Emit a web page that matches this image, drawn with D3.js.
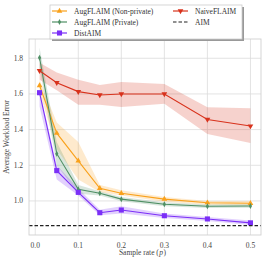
<!DOCTYPE html>
<html><head><meta charset="utf-8">
<script src="https://cdn.jsdelivr.net/npm/d3@7"></script>
<style>body{margin:0;background:#fff}svg{display:block}text{font-family:"Liberation Serif","DejaVu Serif",serif}</style>
</head><body><svg id="c" width="266" height="263"></svg>
<script>
const sampleRates = [0.01, 0.05, 0.1, 0.15, 0.2, 0.3, 0.4, 0.5];
const xTicks = [0.0, 0.1, 0.2, 0.3, 0.4, 0.5];
const yTicks = [1.0, 1.2, 1.4, 1.6, 1.8];
const aimValue = 0.862;

const augNonPrivMean = [1.647, 1.38, 1.225, 1.071, 1.043, 1.01, 0.99, 0.987];
const augNonPrivLo   = [1.61, 1.29, 1.12, 1.05, 1.03, 0.995, 0.978, 0.975];
const augNonPrivHi   = [1.68, 1.44, 1.33, 1.09, 1.06, 1.022, 1.0, 1.0];

const augPrivMean = [1.803, 1.265, 1.065, 1.043, 1.01, 0.981, 0.97, 0.972];
const augPrivLo   = [1.75, 1.2, 1.04, 1.03, 0.998, 0.97, 0.96, 0.962];
const augPrivHi   = [1.86, 1.33, 1.09, 1.055, 1.022, 0.992, 0.98, 0.982];

const distMean = [1.607, 1.17, 1.048, 0.934, 0.949, 0.917, 0.899, 0.877];
const distLo   = [1.53, 1.12, 1.03, 0.92, 0.93, 0.905, 0.888, 0.865];
const distHi   = [1.62, 1.2, 1.07, 0.95, 0.97, 0.93, 0.91, 0.89];

const naiveMean = [1.73, 1.663, 1.613, 1.594, 1.6, 1.6, 1.457, 1.42];
const naiveLo   = [1.68, 1.62, 1.54, 1.54, 1.527, 1.545, 1.376, 1.325];
const naiveHi   = [1.775, 1.72, 1.68, 1.65, 1.667, 1.656, 1.525, 1.52];

const seriesNames = ["AugFLAIM (Non-private)", "AugFLAIM (Private)", "DistAIM", "NaiveFLAIM", "AIM"];

const svg = d3.select("#c");
const L = 29, R = 261, T = 39, B = 235;
const x = d3.scaleLinear().domain([-0.0145, 0.5245]).range([L, R]);
const y = d3.scaleLinear().domain([0.809, 1.908]).range([B, T]);

// grid
const g = svg.append("g");
g.selectAll(".gx").data(xTicks).join("line").attr("x1", d=>x(d)).attr("x2", d=>x(d)).attr("y1", T).attr("y2", B).attr("stroke", "#dcdcdc").attr("stroke-width", 0.8);
g.selectAll(".gy").data(yTicks).join("line").attr("x1", L).attr("x2", R).attr("y1", d=>y(d)).attr("y2", d=>y(d)).attr("stroke", "#dcdcdc").attr("stroke-width", 0.8);

const series = [
  {name: seriesNames[0], mean: augNonPrivMean, lo: augNonPrivLo, hi: augNonPrivHi, color: "#f9a11b", sym: d3.symbolTriangle, size: 14},
  {name: seriesNames[1], mean: augPrivMean, lo: augPrivLo, hi: augPrivHi, color: "#4f8f64", sym: "diamond", size: 10},
  {name: seriesNames[2], mean: distMean, lo: distLo, hi: distHi, color: "#7b2ff7", sym: d3.symbolSquare, size: 26},
  {name: seriesNames[3], mean: naiveMean, lo: naiveLo, hi: naiveHi, color: "#d8321c", sym: "tri-down", size: 14}
];

const area = (s) => d3.area().x((d,i)=>x(sampleRates[i])).y0((d,i)=>y(s.lo[i])).y1((d,i)=>y(s.hi[i]));
const line = d3.line().x((d,i)=>x(sampleRates[i])).y(d=>y(d));

function marker(sel, s) {
  if (s.sym === "diamond") {
    sel.append("path").attr("d", "M0,-3L1.6,0L0,3L-1.6,0Z").attr("fill", s.color);
  } else if (s.sym === "tri-down") {
    sel.append("path").attr("d", d3.symbol(d3.symbolTriangle, s.size)()).attr("transform","rotate(180)").attr("fill", s.color);
  } else {
    sel.append("path").attr("d", d3.symbol(s.sym, s.size)()).attr("fill", s.color);
  }
}

const plot = svg.append("g");
series.forEach(s => {
  plot.append("path").datum(s.mean).attr("d", area(s)).attr("fill", s.color).attr("fill-opacity", 0.22);
});
series.forEach(s => {
  plot.append("path").datum(s.mean).attr("d", line).attr("fill", "none").attr("stroke", s.color).attr("stroke-width", 1.1);
  s.mean.forEach((v,i) => {
    const m = plot.append("g").attr("transform", `translate(${x(sampleRates[i])},${y(v)})`);
    marker(m, s);
  });
});
// AIM
plot.append("line").attr("x1", L).attr("x2", R).attr("y1", y(aimValue)).attr("y2", y(aimValue)).attr("stroke", "#222").attr("stroke-width", 1.2).attr("stroke-dasharray", "3.5,2");

// frame
svg.append("rect").attr("x", L).attr("y", T).attr("width", R-L).attr("height", B-T).attr("fill","none").attr("stroke","#d0d0d0").attr("stroke-width",0.9);

// tick labels
svg.selectAll(".xt").data(xTicks).join("text").attr("x", d=>x(d)).attr("y", B+12.5).attr("text-anchor","middle").attr("font-size", 7.5).attr("fill","#444").text(d=>d3.format(".1f")(d));
svg.selectAll(".yt").data(yTicks).join("text").attr("x", L-6).attr("y", d=>y(d)+2.5).attr("text-anchor","end").attr("font-size", 7.5).attr("fill","#444").text(d=>d3.format(".1f")(d));

// x label: "Sample rate (p)" with italic p, as adjacent text pieces
const xl = svg.append("g");
const parts = [["Sample rate (", "normal"], ["p", "italic"], [")", "normal"]];
const nodes = parts.map(([t, st]) => xl.append("text").attr("y", 255).attr("font-size", 7.5).attr("fill","#444").attr("font-style", st).text(t));
const widths = nodes.map(n => n.node().getComputedTextLength());
let cx = 142 - d3.sum(widths)/2;
nodes.forEach((n,i) => { n.attr("x", cx); cx += widths[i] + (i===1 ? 0.5 : 0.3); });

svg.append("text").attr("transform", `translate(9,${(T+B)/2}) rotate(-90)`).attr("text-anchor","middle").attr("font-size", 7.5).attr("fill","#444").text("Average Workload Error");

// legend
const lg = svg.append("g");
lg.append("rect").attr("x", 52).attr("y", 7).attr("width", 192).attr("height", 34).attr("fill", "#999");
lg.append("rect").attr("x", 50).attr("y", 5).attr("width", 192).attr("height", 34).attr("fill", "#fff").attr("stroke", "#ccc").attr("stroke-width", 0.8);
const legPos = [[52, 11], [52, 22], [52, 33], [173, 11], [173, 22]];
const legSeries = series.concat([{name: "AIM", color: "#222", dashed: true}]);
legSeries.forEach((s, i) => {
  const [lx, ly] = legPos[i];
  lg.append("line").attr("x1", lx).attr("x2", lx+15).attr("y1", ly).attr("y2", ly).attr("stroke", s.color).attr("stroke-width", 1.2).attr("stroke-dasharray", s.dashed ? "3.5,2" : null);
  if (!s.dashed) { const m = lg.append("g").attr("transform", `translate(${lx+7.5},${ly})`); marker(m, s); }
  lg.append("text").attr("x", lx+22).attr("y", ly+2.5).attr("font-size", 7.5).attr("fill", "#333").text(s.name);
});
</script></body></html>
